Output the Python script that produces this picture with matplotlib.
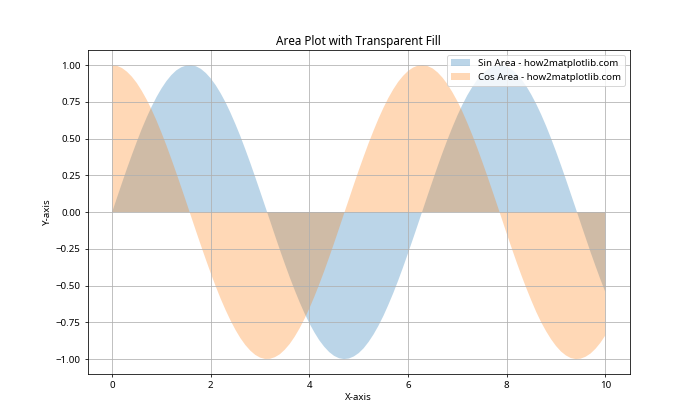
import numpy as np
import matplotlib
matplotlib.use('Agg')
import matplotlib.pyplot as plt

plt.rcParams['font.family'] = ['Noto Sans', 'DejaVu Sans']

# x grid from 0 to 10, step 0.1
x = np.linspace(0, 10, 101)

sin_vals = [0.000, 0.100, 0.199, 0.296, 0.389, 0.479, 0.565, 0.644, 0.717, 0.783,
            0.841, 0.891, 0.932, 0.964, 0.985, 0.997, 1.000, 0.992, 0.974, 0.946,
            0.909, 0.863, 0.808, 0.746, 0.675, 0.598, 0.516, 0.427, 0.335, 0.239,
            0.141, 0.042, -0.058, -0.158, -0.256, -0.351, -0.443, -0.530, -0.612, -0.688,
            -0.757, -0.818, -0.872, -0.916, -0.952, -0.978, -0.994, -1.000, -0.996, -0.982,
            -0.959, -0.926, -0.883, -0.832, -0.773, -0.706, -0.631, -0.551, -0.465, -0.374,
            -0.279, -0.182, -0.083, 0.017, 0.117, 0.215, 0.312, 0.405, 0.494, 0.578,
            0.657, 0.729, 0.794, 0.850, 0.899, 0.938, 0.968, 0.988, 0.999, 0.999,
            0.989, 0.970, 0.941, 0.902, 0.855, 0.798, 0.734, 0.663, 0.585, 0.501,
            0.412, 0.319, 0.223, 0.124, 0.025, -0.075, -0.174, -0.272, -0.366, -0.458,
            -0.544]
cos_vals = [1.000, 0.995, 0.980, 0.955, 0.921, 0.878, 0.825, 0.765, 0.697, 0.622,
            0.540, 0.454, 0.362, 0.267, 0.170, 0.071, -0.029, -0.129, -0.227, -0.323,
            -0.416, -0.505, -0.589, -0.666, -0.737, -0.801, -0.857, -0.904, -0.942, -0.971,
            -0.990, -0.999, -0.998, -0.987, -0.967, -0.936, -0.897, -0.848, -0.791, -0.726,
            -0.654, -0.575, -0.490, -0.401, -0.307, -0.211, -0.112, -0.012, 0.087, 0.187,
            0.284, 0.378, 0.469, 0.554, 0.635, 0.709, 0.776, 0.835, 0.886, 0.927,
            0.960, 0.983, 0.997, 1.000, 0.993, 0.977, 0.950, 0.914, 0.869, 0.815,
            0.754, 0.685, 0.608, 0.526, 0.439, 0.347, 0.252, 0.154, 0.055, -0.045,
            -0.146, -0.244, -0.340, -0.432, -0.519, -0.602, -0.680, -0.750, -0.811, -0.865,
            -0.911, -0.948, -0.975, -0.993, -1.000, -0.997, -0.984, -0.962, -0.930, -0.889,
            -0.839]

fig, ax = plt.subplots(figsize=(10, 6), dpi=70)

ax.fill_between(x, sin_vals, alpha=0.3, label='Sin Area - how2matplotlib.com')
ax.fill_between(x, cos_vals, alpha=0.3, label='Cos Area - how2matplotlib.com')

ax.set_title('Area Plot with Transparent Fill')
ax.set_xlabel('X-axis')
ax.set_ylabel('Y-axis')
ax.legend(loc='upper right')
ax.grid(True)

plt.savefig('out.png', dpi=70)
